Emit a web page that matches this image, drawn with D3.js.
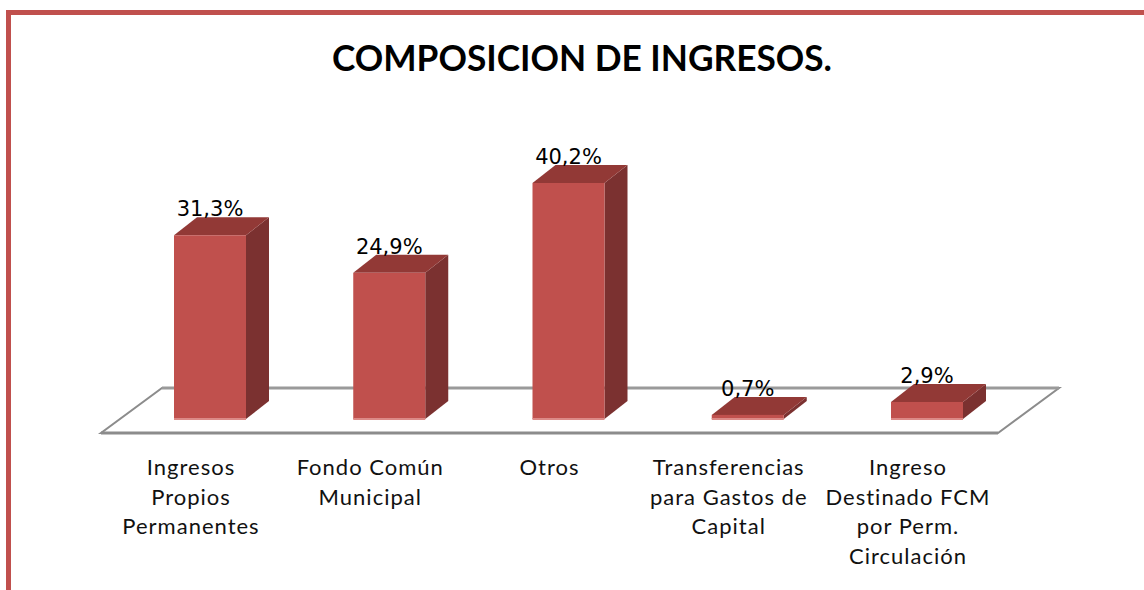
<!DOCTYPE html>
<html>
<head>
<meta charset="utf-8">
<script src="https://cdn.jsdelivr.net/npm/d3@7"></script>
<style>
  html, body { margin: 0; padding: 0; background: #fff; }
  svg { display: block; }
</style>
</head>
<body>
<div id="chart"></div>
<script>
"use strict";

const categories = [
  "Ingresos Propios Permanentes",
  "Fondo Común Municipal",
  "Otros",
  "Transferencias para Gastos de Capital",
  "Ingreso Destinado FCM por Perm. Circulación"
];
const categoryLines = [
  ["Ingresos", "Propios", "Permanentes"],
  ["Fondo Común", "Municipal"],
  ["Otros"],
  ["Transferencias", "para Gastos de", "Capital"],
  ["Ingreso", "Destinado FCM", "por Perm.", "Circulación"]
];
const values = [31.3, 24.9, 40.2, 0.7, 2.9];
const titleText = "COMPOSICION DE INGRESOS.";

const width = 1144;
const height = 590;
const barWidth = 72;
const depth = { dx: 23, dy: -18 };
const baseY = 419;

const svg = d3.select("#chart")
  .append("svg")
  .attr("width", width)
  .attr("height", height);

// border (top + left only visible)
svg.append("path")
  .attr("d", "M8.5,590 L8.5,12.5 L1144,12.5")
  .attr("fill", "none")
  .attr("stroke", "#c0504d")
  .attr("stroke-width", 5);

svg.append("text")
  .attr("x", 582)
  .attr("y", 71)
  .attr("text-anchor", "middle")
  .attr("font-family", "Lato, sans-serif")
  .attr("font-weight", "bold")
  .attr("font-size", 37)
  .attr("textLength", 500)
  .attr("lengthAdjust", "spacingAndGlyphs")
  .attr("fill", "#000")
  .text(titleText);

const xScale = d3.scalePoint()
  .domain(categories)
  .range([210, 927]);

const yScale = d3.scaleLinear()
  .domain([0, 40.2])
  .range([baseY, 183]);

// floor
const floorLeft = xScale(categories[0]) - 90;
const floorRight = xScale(categories[4]) + 90;
const front = { dx: -19, dy: 14 };
const back = { dx: 42, dy: -31 };
svg.append("path")
  .attr("d", `M${floorLeft + front.dx},${baseY + front.dy}
    L${floorRight + front.dx},${baseY + front.dy}
    L${floorRight + back.dx},${baseY + back.dy}
    L${floorLeft + back.dx},${baseY + back.dy} Z`)
  .attr("fill", "#fff")
  .attr("stroke", "#8c8c8c")
  .attr("stroke-width", 2);
svg.append("line")
  .attr("x1", floorLeft + back.dx).attr("x2", floorRight + back.dx)
  .attr("y1", baseY + back.dy).attr("y2", baseY + back.dy)
  .attr("stroke", "#9a9a9a")
  .attr("stroke-width", 3);
svg.append("line")
  .attr("x1", floorLeft + front.dx).attr("x2", floorRight + front.dx)
  .attr("y1", baseY + front.dy).attr("y2", baseY + front.dy)
  .attr("stroke", "#8c8c8c")
  .attr("stroke-width", 3);

const bars = svg.selectAll("g.bar")
  .data(values)
  .enter()
  .append("g")
  .attr("class", "bar");

// side face
bars.append("path")
  .attr("fill", "#7b3130")
  .attr("d", (d, i) => {
    const x1 = xScale(categories[i]) + barWidth / 2;
    const yt = yScale(d);
    return `M${x1},${yt} L${x1 + depth.dx},${yt + depth.dy} L${x1 + depth.dx},${baseY + depth.dy} L${x1},${baseY} Z`;
  });

// top face
bars.append("path")
  .attr("fill", "#923936")
  .attr("d", (d, i) => {
    const x0 = xScale(categories[i]) - barWidth / 2;
    const x1 = x0 + barWidth;
    const yt = yScale(d);
    return `M${x0},${yt} L${x1},${yt} L${x1 + depth.dx},${yt + depth.dy} L${x0 + depth.dx},${yt + depth.dy} Z`;
  });

// front face
bars.append("rect")
  .attr("fill", "#c0504d")
  .attr("x", (d, i) => xScale(categories[i]) - barWidth / 2)
  .attr("y", d => yScale(d))
  .attr("width", barWidth)
  .attr("height", d => baseY - yScale(d));

// lighter bottom edge
bars.append("line")
  .attr("x1", (d, i) => xScale(categories[i]) - barWidth / 2)
  .attr("x2", (d, i) => xScale(categories[i]) + barWidth / 2)
  .attr("y1", baseY)
  .attr("y2", baseY)
  .attr("stroke", "#dc8a87")
  .attr("stroke-width", 2);

// value labels
const fmt = d3.formatLocale({ decimal: ",", thousands: ".", grouping: [3], currency: ["", ""] }).format(".1f");
svg.selectAll("text.value")
  .data(values)
  .enter()
  .append("text")
  .attr("class", "value")
  .attr("x", (d, i) => xScale(categories[i]))
  .attr("y", d => yScale(d) + depth.dy - 1)
  .attr("text-anchor", "middle")
  .attr("font-family", "'DejaVu Sans', Verdana, sans-serif")
  .attr("font-size", 21)
  .attr("fill", "#000")
  .text(d => fmt(d) + "%");

// category labels
const labels = svg.selectAll("text.cat")
  .data(categoryLines)
  .enter()
  .append("text")
  .attr("class", "cat")
  .attr("text-anchor", "middle")
  .attr("font-family", "Lato, sans-serif")
  .attr("font-size", 22)
  .attr("letter-spacing", 1)
  .attr("fill", "#111");

labels.selectAll("tspan")
  .data((lines, i) => lines.map(l => ({ l, x: xScale(categories[i]) + front.dx })))
  .enter()
  .append("tspan")
  .attr("x", d => d.x)
  .attr("y", (d, j) => 475 + j * 29.5)
  .text(d => d.l);
</script>
</body>
</html>
